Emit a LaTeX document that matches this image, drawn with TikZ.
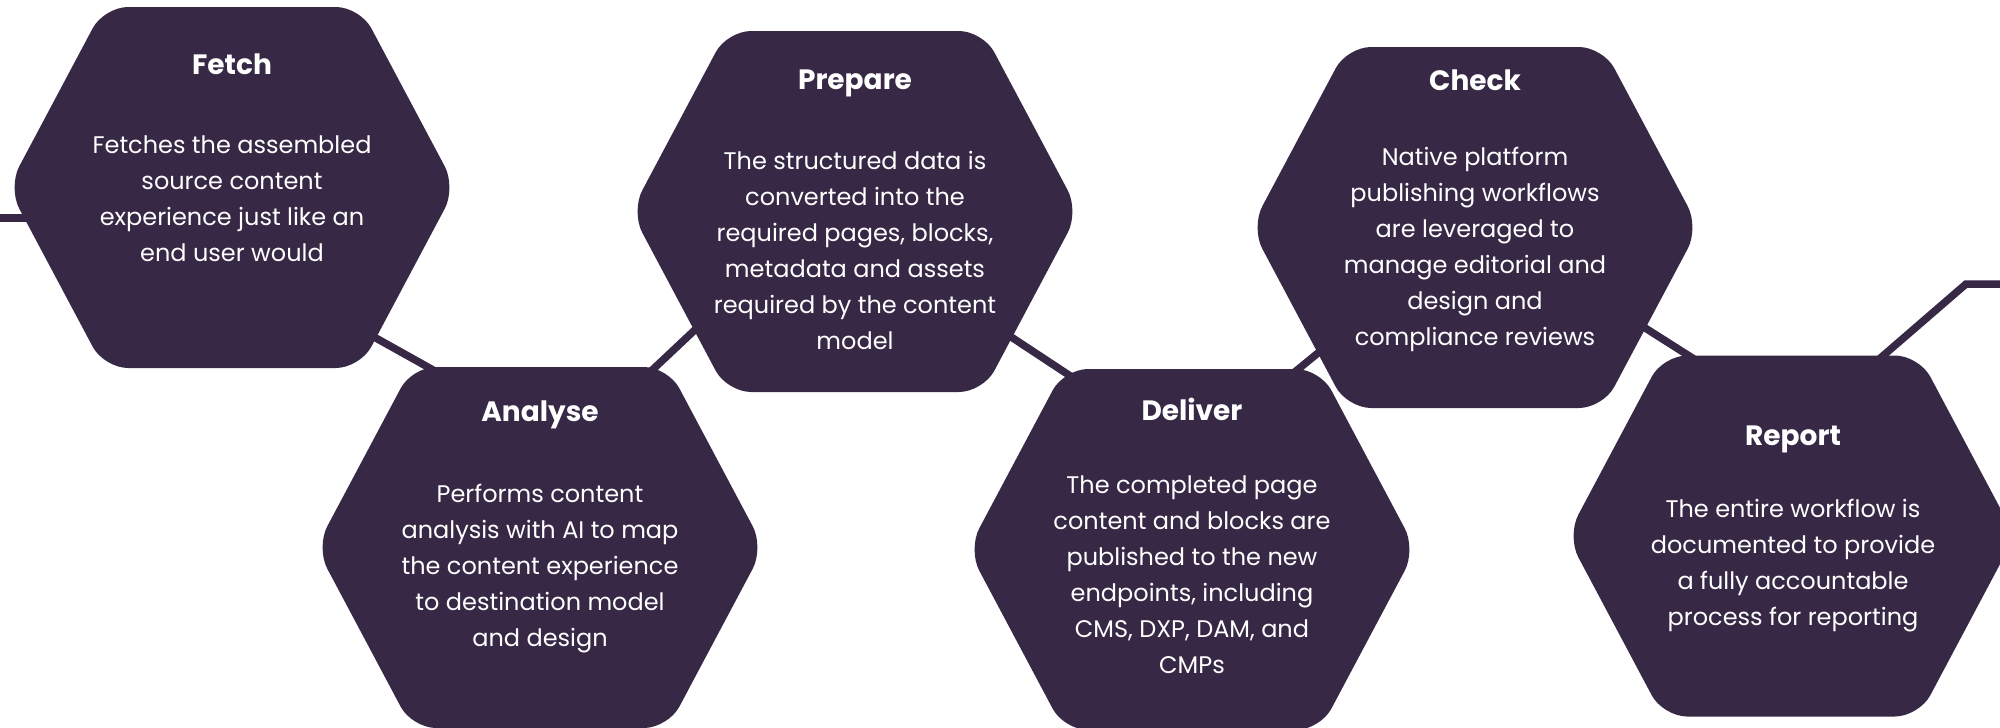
\documentclass[tikz,border=0pt]{standalone}
\usepackage{fontspec}
\setmainfont{Poppins}
\usetikzlibrary{calc}
\definecolor{hexcol}{HTML}{372845}
\newcommand{\hexfill}[1]{%
  \fill[hexcol, rounded corners=24pt] ($(#1)+(0,-180.5)$) -- ++(128,0) -- ++(96,180.5) -- ++(-96,180.5) -- ++(-256,0) -- ++(-96,-180.5) -- ++(96,-180.5) -- cycle;}
\tikzset{
  hextitle/.style={text=white, inner sep=0pt, font=\bfseries\fontsize{28}{32}\selectfont},
  hexbody/.style={text=white, inner sep=0pt, align=center, font=\fontsize{24}{36}\selectfont},
  conn/.style={draw=hexcol, line width=7.5pt}
}
\begin{document}
\begin{tikzpicture}[x=1pt,y=-1pt]
\useasboundingbox (0,0) rectangle (2000,728);
% hexagon centres
\coordinate (fetch) at (232,187.5);
\coordinate (analyse) at (540,547.5);
\coordinate (prepare) at (855,211.5);
\coordinate (deliver) at (1192,549.5);
\coordinate (check) at (1475,227.5);
\coordinate (report) at (1791,536);
\coordinate (entry) at (-5,218);
\coordinate (bend) at (1966,284);
\coordinate (exit) at (2010,284);
% connectors
\draw[conn] (entry) -- ($(fetch)+(-172,30.5)$);
\draw[conn] ($(fetch)+(117,135.5)$) -- ($(analyse)+(-89,-167.5)$);
\draw[conn] ($(analyse)+(100,-166)$) -- ($(prepare)+(-140,99.5)$);
\draw[conn] ($(prepare)+(135,111.5)$) -- ($(deliver)+(-102,-160.5)$);
\draw[conn] ($(deliver)+(93,-169.5)$) -- ($(check)+(-135,107.5)$);
\draw[conn] ($(check)+(145,84.5)$) -- ($(report)+(-86,-170)$);
\draw[conn, line join=miter] ($(report)+(79,-169)$) -- (bend) -- (exit);
% hexagons
\hexfill{fetch}
\hexfill{analyse}
\hexfill{prepare}
\hexfill{deliver}
\hexfill{check}
\hexfill{report}
% texts
\node[hextitle] (fetch-t) at (232,64) {Fetch};
\node[hexbody] (fetch-b) at (232,198.5) {Fetches the assembled\\source content\\experience just like an\\end user would};
\node[hextitle] (analyse-t) at (540,415) {Analyse};
\node[hexbody] (analyse-b) at (540,569) {Performs content\\analysis with AI to map\\the content experience\\to destination model\\and design};
\node[hextitle] (prepare-t) at (855,83) {Prepare};
\node[hexbody] (prepare-b) at (855,250) {The structured data is\\converted into the\\required pages, blocks,\\metadata and assets\\required by the content\\model};
\node[hextitle] (deliver-t) at (1192,409) {Deliver};
\node[hexbody] (deliver-b) at (1192,575) {The completed page\\content and blocks are\\published to the new\\endpoints, including\\CMS, DXP, DAM, and\\CMPs};
\node[hextitle] (check-t) at (1475,80) {Check};
\node[hexbody] (check-b) at (1475,249) {Native platform\\publishing workflows\\are leveraged to\\manage editorial and\\design and\\compliance reviews};
\node[hextitle] (report-t) at (1793,439) {Report};
\node[hexbody] (report-b) at (1793,566) {The entire workflow is\\documented to provide\\a fully accountable\\process for reporting};
\end{tikzpicture}
\end{document}
